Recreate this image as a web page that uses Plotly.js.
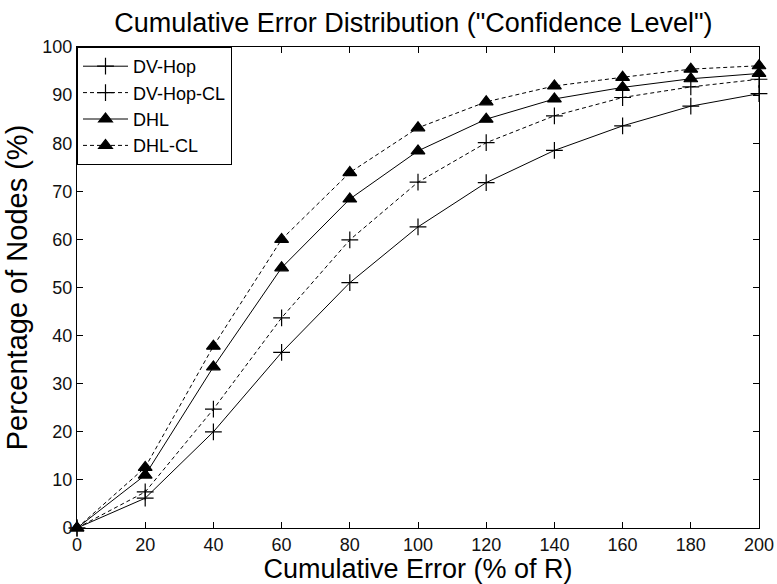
<!DOCTYPE html>
<html>
<head>
<meta charset="utf-8">
<script src="https://cdn.plot.ly/plotly-3.0.1.min.js"></script>
<style>
html,body{margin:0;padding:0;background:#fff;}
#chart{width:777px;height:584px;}
</style>
</head>
<body>
<div id="chart"></div>
<script>
const errorPct = [0, 20, 40, 60, 80, 100, 120, 140, 160, 180, 200];
const dvHop    = [0, 6.2, 20.0, 36.5, 51.0, 62.6, 71.8, 78.5, 83.6, 87.7, 90.3];
const dvHopCL  = [0, 7.5, 24.7, 43.7, 59.9, 71.9, 80.1, 85.7, 89.5, 91.7, 93.3];
const dhl      = [0, 11.0, 33.5, 54.1, 68.4, 78.4, 85.0, 89.2, 91.6, 93.4, 94.5];
const dhlCL    = [0, 12.6, 37.8, 60.0, 73.9, 83.2, 88.6, 91.9, 93.7, 95.4, 96.1];
const seriesNames = ['DV-Hop', 'DV-Hop-CL', 'DHL', 'DHL-CL'];

const FONT = 'Liberation Sans, Arial, sans-serif';
const dashCL = '4px,3px';

function tr(name, y, dash, sym, size) {
  return {
    x: errorPct, y: y, name: name, type: 'scatter', mode: 'lines+markers',
    cliponaxis: false,
    line: {color: '#000', width: 1, dash: dash},
    marker: {symbol: sym, size: size, color: '#000', line: {color: '#000', width: 1.2}}
  };
}

const data = [
  tr(seriesNames[0], dvHop, 'solid', 'cross-thin', 12),
  tr(seriesNames[1], dvHopCL, dashCL, 'cross-thin', 12),
  tr(seriesNames[2], dhl, 'solid', 'triangle-up', 12),
  tr(seriesNames[3], dhlCL, dashCL, 'triangle-up', 12)
];

const layout = {
  width: 777, height: 584,
  margin: {l: 77, r: 18, t: 47, b: 56},
  paper_bgcolor: '#fff', plot_bgcolor: '#fff',
  font: {family: FONT, color: '#000'},
  title: {text: 'Cumulative Error Distribution ("Confidence Level")',
          font: {family: FONT, size: 27, color: '#000'},
          x: 0.532, xanchor: 'center', y: 0.978, yanchor: 'top'},
  xaxis: {
    range: [0, 200], dtick: 20, tick0: 0,
    showgrid: false, zeroline: false,
    showline: true, linecolor: '#000', linewidth: 1, mirror: 'ticks',
    ticks: 'inside', ticklen: 6, tickcolor: '#000',
    tickfont: {family: FONT, size: 18, color: '#111'},
    title: {text: 'Cumulative Error (% of R)', font: {family: FONT, size: 27, color: '#000'}, standoff: 0}
  },
  yaxis: {
    range: [0, 100], dtick: 10, tick0: 0,
    showgrid: false, zeroline: false,
    showline: true, linecolor: '#000', linewidth: 1, mirror: 'ticks',
    ticks: 'inside', ticklen: 6, tickcolor: '#000',
    tickfont: {family: FONT, size: 18, color: '#111'},
    title: {text: 'Percentage of Nodes (%)', font: {family: FONT, size: 29, color: '#000'}, standoff: 6}
  },
  showlegend: true,
  legend: {
    x: 0, y: 1, xanchor: 'left', yanchor: 'top',
    bgcolor: '#fff', bordercolor: '#000', borderwidth: 1,
    font: {family: FONT, size: 18, color: '#000'},
    itemwidth: 45, tracegroupgap: 0
  }
};

Plotly.newPlot('chart', data, layout, {displayModeBar: false, staticPlot: true});
</script>
</body>
</html>
